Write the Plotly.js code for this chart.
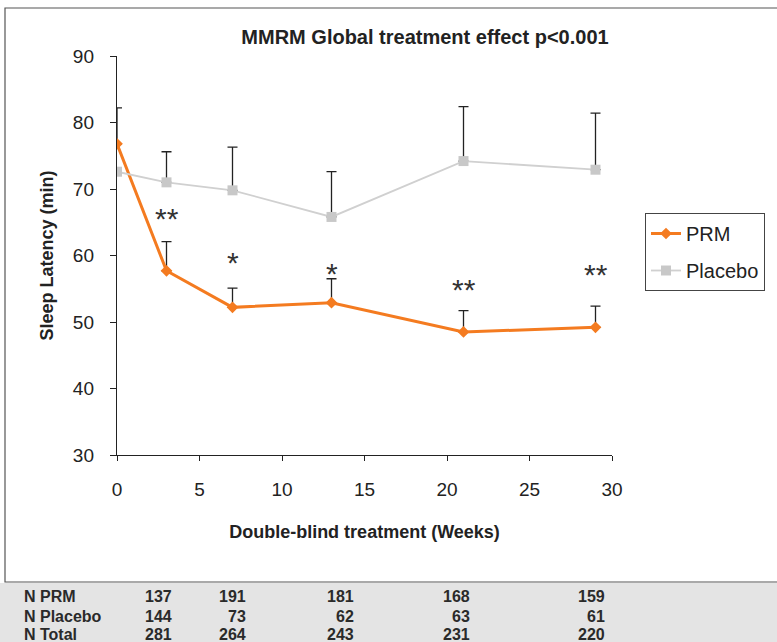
<!DOCTYPE html>
<html>
<head>
<meta charset="utf-8">
<script src="https://cdn.plot.ly/plotly-3.0.1.min.js"></script>
<style>body{margin:0;background:#fff}#chart{width:777px;height:642px}</style>
</head>
<body>
<div id="chart"></div>
<script>
// ---- data ----
const weeks = [0, 3, 7, 13, 21, 29];
const prmMean = [76.8, 57.7, 52.2, 52.9, 48.5, 49.2];
const prmErrUp = [5.4, 4.4, 2.9, 3.6, 3.2, 3.2];
const placeboMean = [72.6, 71.0, 69.8, 65.8, 74.2, 72.9];
const placeboErrUp = [0, 4.6, 6.5, 6.8, 8.2, 8.5];
const sigLabels = ['', '**', '*', '*', '**', '**'];
const sigY = [null, 66.3, 59.7, 58.1, 55.7, 57.9];
const tableRowLabels = ['N PRM', 'N Placebo', 'N Total'];
const nPRM = [137, 191, 181, 168, 159];
const nPlacebo = [144, 73, 62, 63, 61];
const nTotal = [281, 264, 243, 231, 220];

// ---- layout helpers (pixel -> paper) ----
const L = 117, R = 612, T = 56, B = 455;
const px = x => (x - L) / (R - L);
const py = y => (B - y) / (B - T);
const FONT = 'Liberation Sans, Arial, sans-serif';

const traces = [
  {
    x: weeks, y: prmMean, name: 'PRM', type: 'scatter', mode: 'lines+markers',
    line: {color: '#f47b20', width: 3},
    marker: {symbol: 'diamond', size: 9, color: '#f47b20'},
    error_y: {type: 'data', symmetric: false, array: prmErrUp, arrayminus: prmErrUp.map(() => 0),
      color: '#222', thickness: 1.3, width: 5},
    legendgroup: 'a'
  },
  {
    x: weeks, y: placeboMean, name: 'Placebo', type: 'scatter', mode: 'lines+markers',
    line: {color: '#d0d0d0', width: 1.8},
    marker: {symbol: 'square', size: 10, color: '#c8c8c8'},
    error_y: {type: 'data', symmetric: false, array: placeboErrUp, arrayminus: placeboErrUp.map(() => 0),
      color: '#222', thickness: 1.3, width: 5},
    legendgroup: 'b'
  }
];

const annotations = [];
weeks.forEach((w, i) => {
  if (sigLabels[i]) annotations.push({x: w, y: sigY[i], xref: 'x', yref: 'y', text: sigLabels[i],
    showarrow: false, yshift: -5, font: {family: FONT, size: 30, color: '#333'}});
});
// table
const rowY = [596, 616, 634];
const colRight = [174, 248, 356, 472, 607];
const rows = [nPRM, nPlacebo, nTotal];
tableRowLabels.forEach((lab, r) => {
  annotations.push({x: px(22), y: py(rowY[r]), xref: 'paper', yref: 'paper', text: '<b>' + lab + '</b>',
    showarrow: false, xanchor: 'left', yanchor: 'middle', font: {family: FONT, size: 16, color: '#2a2a2a'}});
  rows[r].forEach((v, c) => {
    annotations.push({x: px(colRight[c]), y: py(rowY[r]), xref: 'paper', yref: 'paper', text: '<b>' + v + '</b>',
      showarrow: false, xanchor: 'right', yanchor: 'middle', font: {family: FONT, size: 16, color: '#2a2a2a'}});
  });
});

const shapes = [
  {type: 'rect', xref: 'paper', yref: 'paper', x0: px(0), x1: px(777), y0: py(642), y1: py(583),
    fillcolor: '#e4e4e4', line: {width: 0}, layer: 'below'},
  {type: 'rect', xref: 'paper', yref: 'paper', x0: px(5), x1: px(790), y0: py(582), y1: py(8),
    line: {color: '#555', width: 1.2}, fillcolor: 'rgba(0,0,0,0)'}
];

const layout = {
  width: 777, height: 642,
  margin: {l: L, r: 777 - R, t: T, b: 642 - B},
  paper_bgcolor: '#fff', plot_bgcolor: '#fff',
  font: {family: FONT, color: '#222'},
  title: {text: '<b>MMRM Global treatment effect p<0.001</b>', xref: 'container', yref: 'container',
    x: 425 / 777, xanchor: 'center', y: 1 - 37 / 642, yanchor: 'middle',
    font: {family: FONT, size: 20, color: '#222'}},
  xaxis: {range: [0, 30], tickvals: [0, 5, 10, 15, 20, 25, 30], showgrid: false, zeroline: false,
    showline: true, linecolor: '#222', linewidth: 1.2, ticks: 'outside', ticklen: 5, tickcolor: '#222',
    ticklabelstandoff: 12,
    tickfont: {size: 19, color: '#222'},
    title: {text: '<b>Double-blind treatment (Weeks)</b>', font: {size: 18, color: '#222'}, standoff: 26}},
  yaxis: {range: [30, 90], tickvals: [30, 40, 50, 60, 70, 80, 90], showgrid: false, zeroline: false,
    showline: true, linecolor: '#222', linewidth: 1.2, ticks: 'outside', ticklen: 6, tickcolor: '#222',
    ticklabelstandoff: 12,
    tickfont: {size: 19, color: '#222'},
    title: {text: '<b>Sleep Latency (min)</b>', font: {size: 18, color: '#222'}, standoff: 14}},
  legend: {x: px(645), y: py(213), xanchor: 'left', yanchor: 'top', bordercolor: '#444', borderwidth: 1,
    font: {size: 20, color: '#222'}, traceorder: 'grouped', tracegroupgap: 8, itemwidth: 30},
  showlegend: true,
  annotations: annotations,
  shapes: shapes
};

Plotly.newPlot('chart', traces, layout, {displayModeBar: false, staticPlot: true});
</script>
</body>
</html>
